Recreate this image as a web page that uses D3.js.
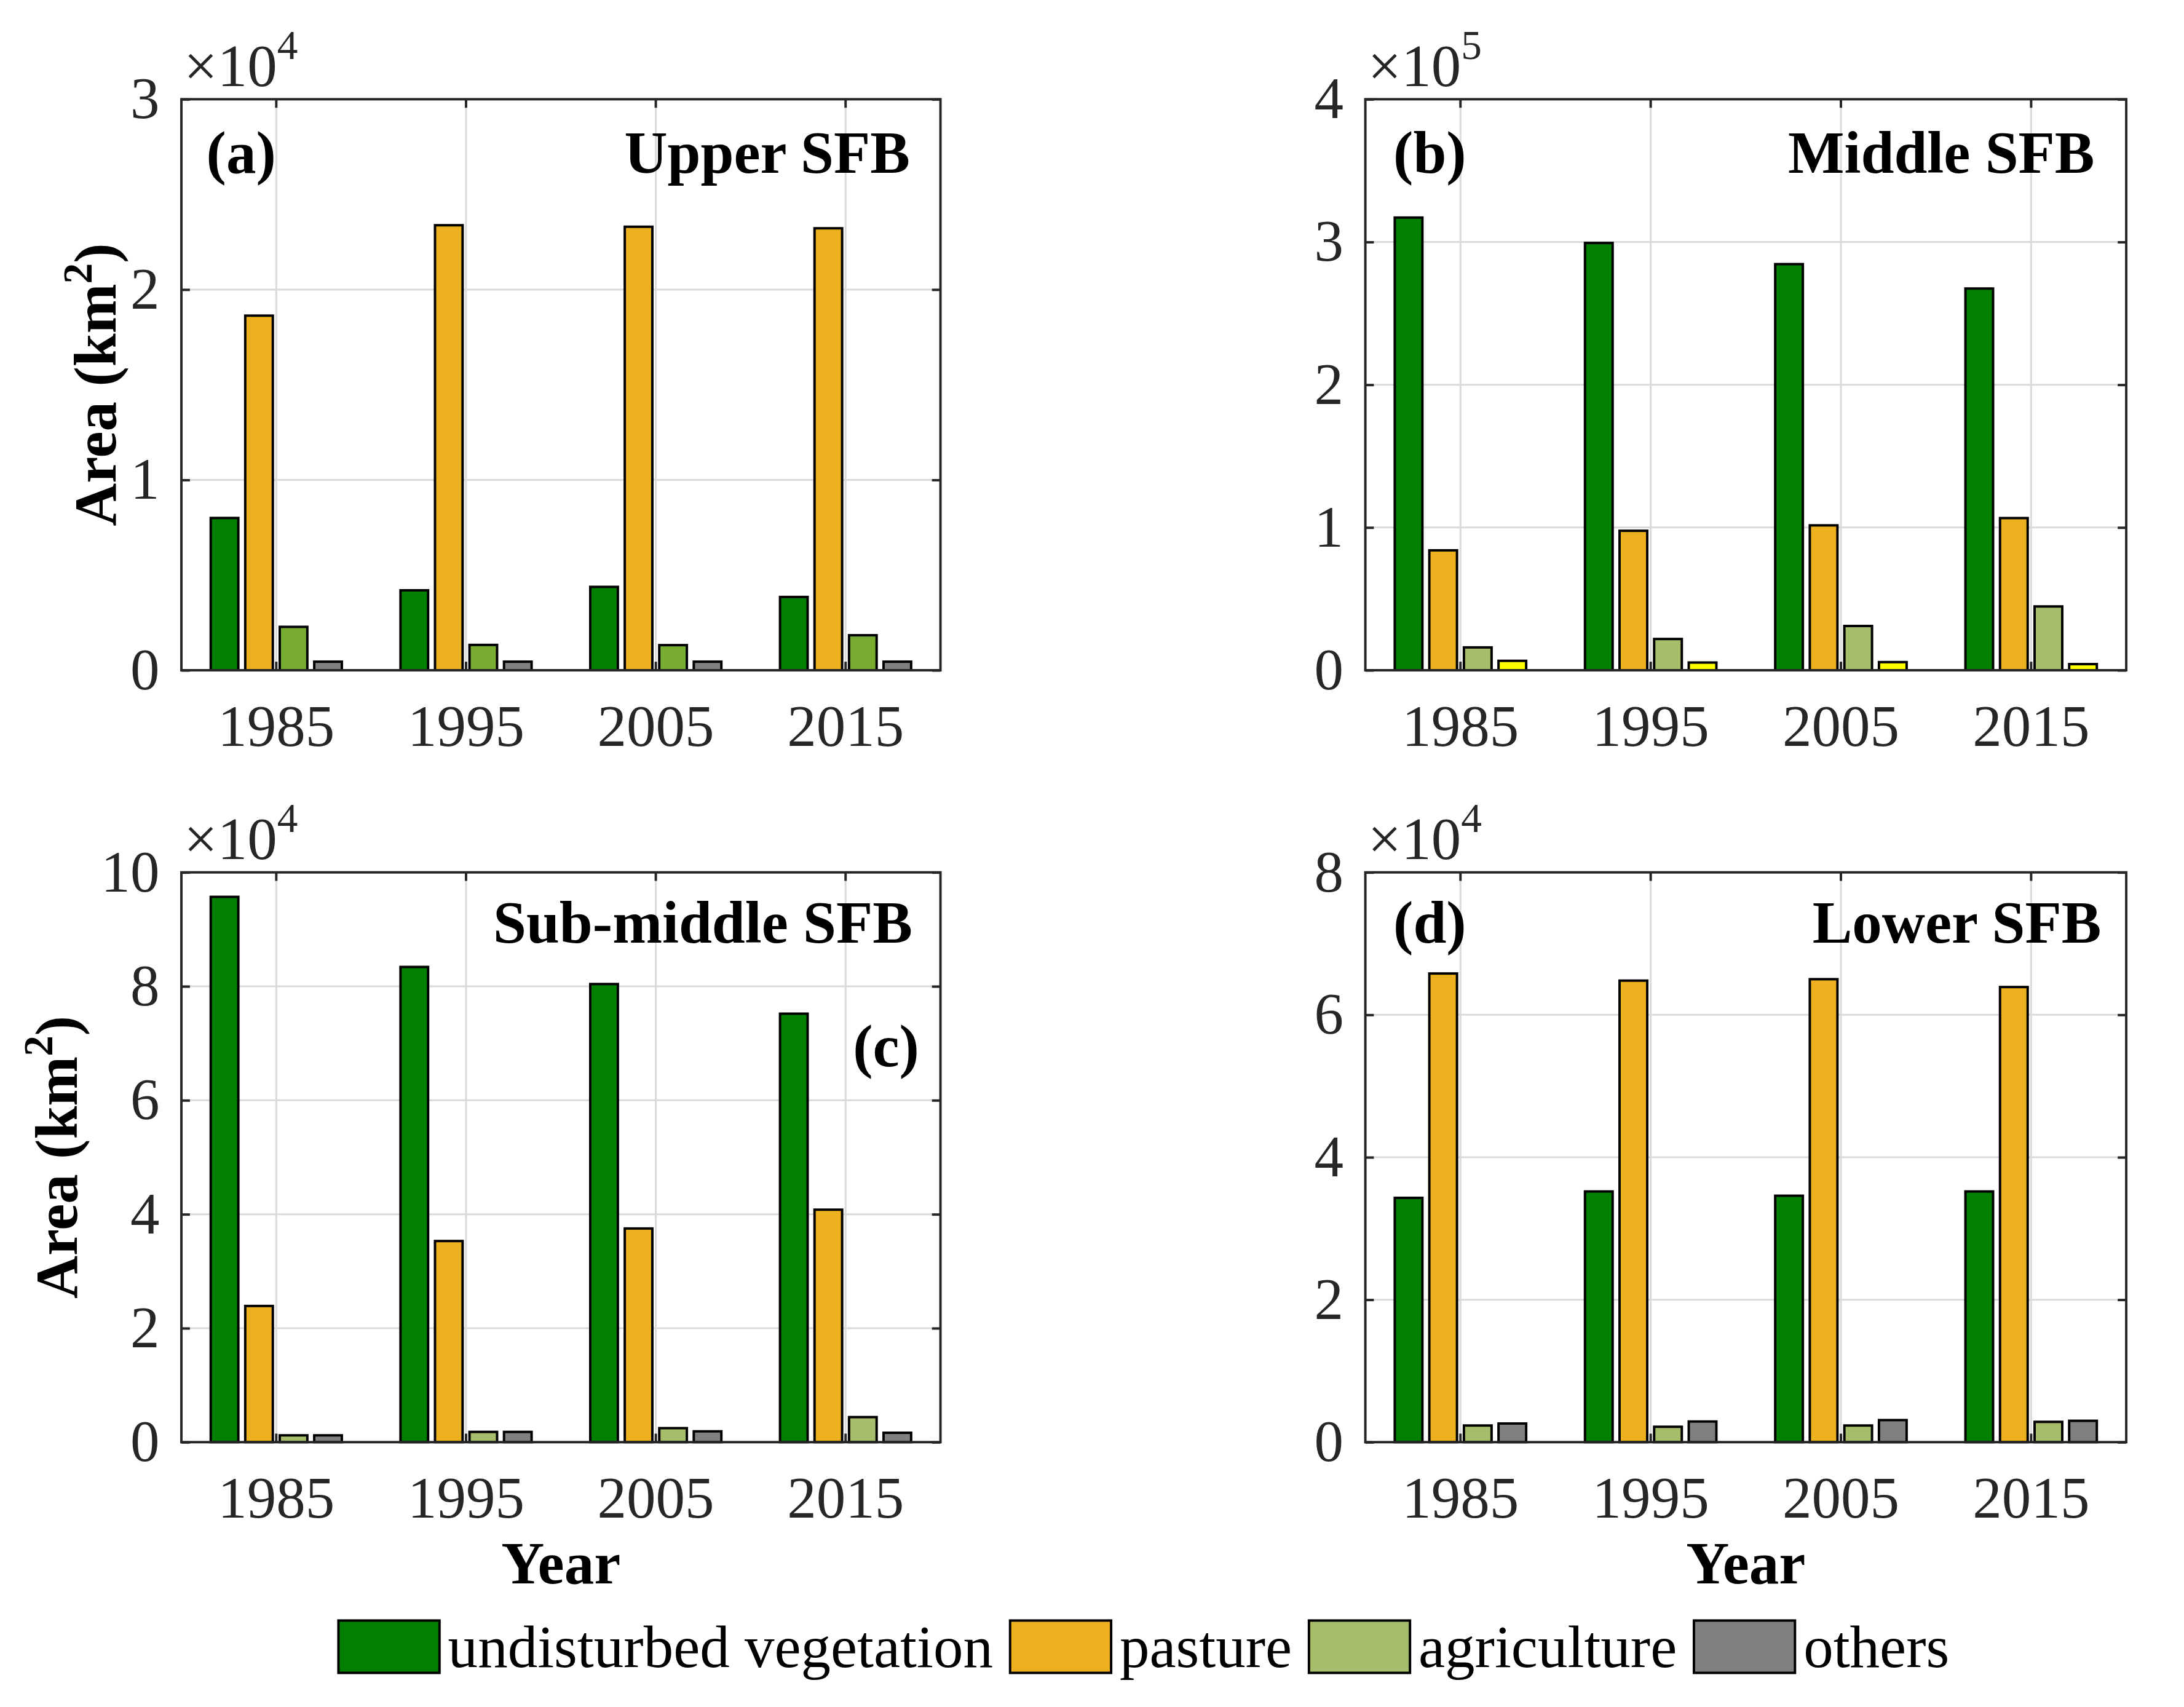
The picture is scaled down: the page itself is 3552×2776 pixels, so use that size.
<!DOCTYPE html>
<html>
<head>
<meta charset="utf-8">
<script src="https://cdn.jsdelivr.net/npm/d3@7"></script>
<style>
  body { margin: 0; background: #fff; }
  svg { display: block; }
</style>
</head>
<body>
<svg id="chart"></svg>
<script>
// years on the x axis and land-cover classes
const years = ["1985", "1995", "2005", "2015"]
const classes = ["undisturbed vegetation", "pasture", "agriculture", "others"]

// areas in km2, one row per class (same order as classes), one value per year
const upperSFB = [
  [8000, 4200, 4380, 3850],
  [18630, 23380, 23300, 23220],
  [2280, 1330, 1320, 1840],
  [450, 450, 450, 450],
]
const middleSFB = [
  [317100, 299300, 284500, 267400],
  [84000, 97700, 101500, 106600],
  [16000, 21900, 31000, 44700],
  [6600, 5400, 5700, 4300],
]
const subMiddleSFB = [
  [95700, 83400, 80400, 75200],
  [23900, 35300, 37500, 40800],
  [1200, 1800, 2460, 4400],
  [1200, 1800, 1900, 1650],
]
const lowerSFB = [
  [34300, 35200, 34600, 35200],
  [65800, 64800, 65000, 63900],
  [2340, 2160, 2340, 2850],
  [2620, 2900, 3100, 3000],
]

// y tick values (in units of 10^exp)
const ticksA = [0, 1, 2, 3]
const ticksB = [0, 1, 2, 3, 4]
const ticksC = [0, 2, 4, 6, 8, 10]
const ticksD = [0, 2, 4, 6, 8]

const legendColors = ["#007f00", "#edb120", "#a6be6b", "#808080"]

const W = 3552, H = 2776
const font = "'Liberation Serif', 'Times New Roman', serif"
const fs = 96
const axisColor = "#262626"

const panels = [
  { data: upperSFB, ticks: ticksA, exp: 4, x0: 298, x1: 1545, y0: 163, y1: 1101,
    colors: ["#007f00", "#edb120", "#77ac30", "#808080"],
    title: "Upper SFB", titleX: 1495, titleY: 284, tag: "(a)", tagX: 339, tagY: 284, tagAnchor: "start",
    yLabelX: 156, xLabel: false },
  { data: middleSFB, ticks: ticksB, exp: 5, x0: 2243, x1: 3493, y0: 163, y1: 1101,
    colors: ["#007f00", "#edb120", "#a6be6b", "#ffff00"],
    title: "Middle SFB", titleX: 3441, titleY: 284, tag: "(b)", tagX: 2289, tagY: 284, tagAnchor: "start",
    yLabelX: null, xLabel: false },
  { data: subMiddleSFB, ticks: ticksC, exp: 4, x0: 298, x1: 1545, y0: 1433, y1: 2369,
    colors: ["#007f00", "#edb120", "#a6be6b", "#808080"],
    title: "Sub-middle SFB", titleX: 1499, titleY: 1549, tag: "(c)", tagX: 1510, tagY: 1752, tagAnchor: "end",
    yLabelX: 92, xLabel: true },
  { data: lowerSFB, ticks: ticksD, exp: 4, x0: 2243, x1: 3493, y0: 1433, y1: 2369,
    colors: ["#007f00", "#edb120", "#a6be6b", "#808080"],
    title: "Lower SFB", titleX: 3452, titleY: 1549, tag: "(d)", tagX: 2289, tagY: 1549, tagAnchor: "start",
    yLabelX: null, xLabel: true },
]

const svg = d3.select("#chart")
  .attr("width", W)
  .attr("height", H)
  .attr("viewBox", [0, 0, W, H])
  .attr("font-family", font)

svg.append("rect").attr("width", W).attr("height", H).attr("fill", "#fff")

// everything sits in a slightly shrunk root group
const root = svg.append("g").attr("transform", "scale(0.99)")

panels.forEach(p => {
  const g = root.append("g")
  const scale = Math.pow(10, p.exp)
  const yMax = d3.max(p.ticks) * scale

  // scale x (one band per year, MATLAB grouped bar layout)
  const x = d3.scaleBand()
    .domain(years)
    .range([p.x0, p.x1])
    .padding(0)
  const groupWidth = x.bandwidth() * 4 / 5.5
  const xSub = d3.scaleBand()
    .domain(d3.range(classes.length))
    .range([-groupWidth / 2, groupWidth / 2])
    .paddingInner(0.2)
    .paddingOuter(0.1)

  // scale y
  const y = d3.scaleLinear()
    .domain([0, yMax])
    .range([p.y1, p.y0])

  // grid
  g.append("g")
      .attr("stroke", "#dadada")
      .attr("stroke-width", 3)
    .selectAll("line")
    .data(years)
    .join("line")
      .attr("x1", d => x(d) + x.bandwidth() / 2)
      .attr("x2", d => x(d) + x.bandwidth() / 2)
      .attr("y1", p.y0)
      .attr("y2", p.y1)
  g.append("g")
      .attr("stroke", "#dadada")
      .attr("stroke-width", 3)
    .selectAll("line")
    .data(p.ticks.map(t => t * scale))
    .join("line")
      .attr("x1", p.x0)
      .attr("x2", p.x1)
      .attr("y1", d => y(d))
      .attr("y2", d => y(d))

  // bars
  const bars = []
  p.data.forEach((row, ci) => row.forEach((v, yi) => bars.push({ ci, year: years[yi], v })))
  g.append("g")
      .attr("stroke", "#000")
      .attr("stroke-width", 4)
    .selectAll("rect")
    .data(bars)
    .join("rect")
      .attr("x", d => x(d.year) + x.bandwidth() / 2 + xSub(d.ci))
      .attr("width", xSub.bandwidth())
      .attr("y", d => y(d.v))
      .attr("height", d => y(0) - y(d.v))
      .attr("fill", d => p.colors[d.ci])

  // axes
  const tickLen = 14
  const xAxis = g.append("g")
    .attr("transform", `translate(0,${p.y1})`)
    .call(d3.axisBottom(x).tickSizeInner(-tickLen).tickSizeOuter(0).tickPadding(56))
  const yAxis = g.append("g")
    .attr("transform", `translate(${p.x0},0)`)
    .call(d3.axisLeft(y).tickValues(p.ticks.map(t => t * scale)).tickFormat(d => d / scale)
      .tickSizeInner(-tickLen).tickSizeOuter(0).tickPadding(36))
  const topAxis = g.append("g")
    .attr("transform", `translate(0,${p.y0})`)
    .call(d3.axisTop(x).tickSizeInner(-tickLen).tickSizeOuter(0).tickFormat(""))
  const rightAxis = g.append("g")
    .attr("transform", `translate(${p.x1},0)`)
    .call(d3.axisRight(y).tickValues(p.ticks.map(t => t * scale)).tickSizeInner(-tickLen).tickSizeOuter(0).tickFormat(""))

  ;[xAxis, yAxis, topAxis, rightAxis].forEach(a => {
    a.select(".domain").remove()
    a.selectAll(".tick line").attr("stroke", axisColor).attr("stroke-width", 4)
    a.selectAll(".tick text")
      .attr("fill", axisColor)
      .attr("font-size", fs)
      .attr("font-family", font)
  })

  // box
  g.append("rect")
    .attr("x", p.x0)
    .attr("y", p.y0)
    .attr("width", p.x1 - p.x0)
    .attr("height", p.y1 - p.y0)
    .attr("fill", "none")
    .attr("stroke", axisColor)
    .attr("stroke-width", 4)

  // exponent
  const expText = g.append("text")
    .attr("x", p.x0 + 4)
    .attr("y", p.y0 - 22)
    .attr("font-size", 98)
    .attr("fill", axisColor)
  expText.append("tspan").text("\u00d710")
  expText.append("tspan").attr("font-size", 68).attr("dy", -44).text(p.exp)

  // title and tag
  g.append("text")
    .attr("x", p.titleX)
    .attr("y", p.titleY)
    .attr("text-anchor", "end")
    .attr("font-size", 98)
    .attr("font-weight", "bold")
    .text(p.title)
  g.append("text")
    .attr("x", p.tagX)
    .attr("y", p.tagY)
    .attr("text-anchor", p.tagAnchor)
    .attr("font-size", 98)
    .attr("font-weight", "bold")
    .text(p.tag)

  // y label
  if (p.yLabelX !== null) {
    const yl = g.append("text")
      .attr("transform", `translate(${p.yLabelX},${(p.y0 + p.y1) / 2}) rotate(-90)`)
      .attr("text-anchor", "middle")
      .attr("dy", "0.35em")
      .attr("font-size", 98)
      .attr("font-weight", "bold")
    yl.append("tspan").text("Area (km")
    yl.append("tspan").attr("font-size", 68).attr("dy", -40).text("2")
    yl.append("tspan").attr("dy", 40).text(")")
  }

  // x label
  if (p.xLabel) {
    g.append("text")
      .attr("x", (p.x0 + p.x1) / 2)
      .attr("y", p.y1 + 232)
      .attr("text-anchor", "middle")
      .attr("font-size", 98)
      .attr("font-weight", "bold")
      .text("Year")
  }
})

// legend
const legend = root.append("g").attr("font-size", 98)
let lx = 556
classes.forEach((c, i) => {
  legend.append("rect")
    .attr("x", lx)
    .attr("y", 2662)
    .attr("width", 166)
    .attr("height", 86)
    .attr("fill", legendColors[i])
    .attr("stroke", "#000")
    .attr("stroke-width", 4)
  const t = legend.append("text")
    .attr("x", lx + 180)
    .attr("y", 2738)
    .text(c)
  lx += 180 + t.node().getComputedTextLength() + 28
})
</script>
</body>
</html>
